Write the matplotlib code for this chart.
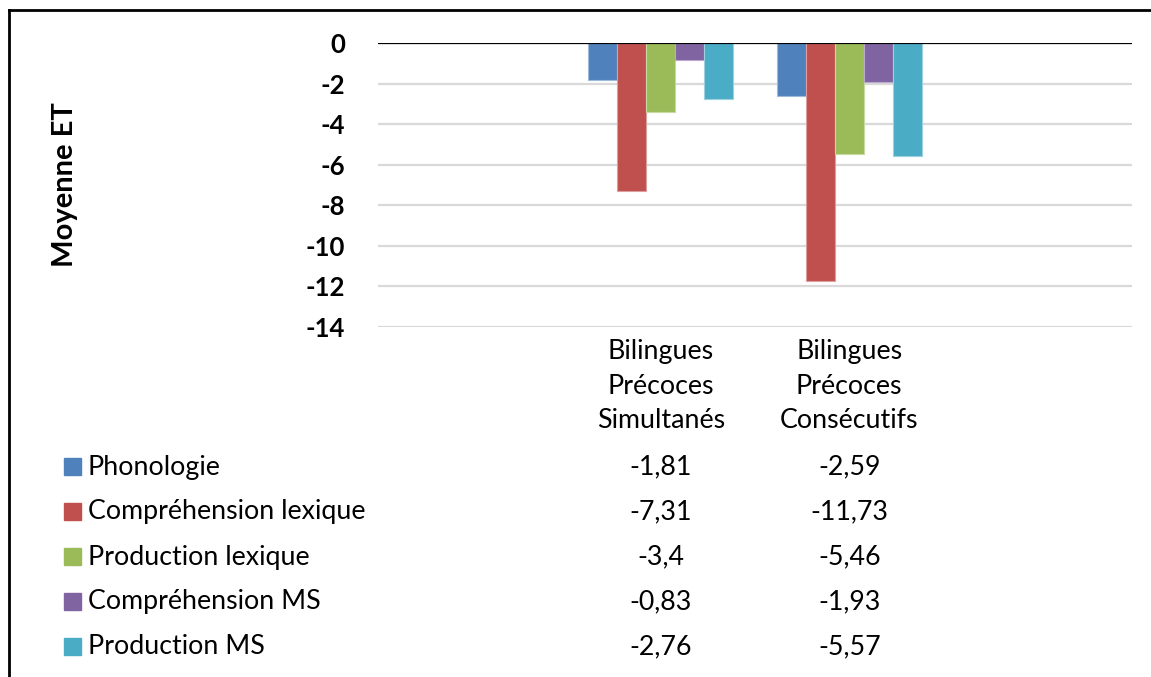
import matplotlib.pyplot as plt
import numpy as np
from matplotlib.lines import Line2D
from matplotlib.patches import Rectangle
from matplotlib.colors import to_rgb

plt.rcParams["font.family"] = ["Lato", "DejaVu Sans"]
plt.rcParams["axes.unicode_minus"] = False

groups = ["Bilingues\nPrécoces\nSimultanés", "Bilingues\nPrécoces\nConsécutifs"]
series = ["Phonologie", "Compréhension lexique", "Production lexique",
          "Compréhension MS", "Production MS"]
simultanes = [-1.81, -7.31, -3.4, -0.83, -2.76]
consecutifs = [-2.59, -11.73, -5.46, -1.93, -5.57]
colors = ["#4F81BD", "#C0504D", "#9BBB59", "#8064A2", "#4BACC6"]
yticks = np.arange(-14, 1, 2)

W, H = 1151, 677
fig = plt.figure(figsize=(W / 100, H / 100), dpi=100)
ax = fig.add_axes([378 / W, 1 - 327 / H, 754 / W, 284 / H])

# the original chart has 4 category slots, only the middle two hold data
x = np.array([1, 2])
width = 0.154
values = np.array([simultanes, consecutifs]).T
for i, name in enumerate(series):
    edge = 0.55 * np.array(to_rgb(colors[i])) + 0.45
    ax.bar(x + (i - 2) * width, values[i], width, color=colors[i],
           edgecolor=edge, linewidth=0.8, zorder=3, label=name)

ax.set_xlim(-0.5, 3.5)
ax.set_ylim(-14, 0)
ax.set_yticks(yticks, labels=[f"{t:g}" for t in yticks],
              fontweight="bold", fontsize=18.5)
ax.set_xticks([])
ax.yaxis.grid(True, color="#D9D9D9", linewidth=1.6, zorder=0)
ax.axhline(0, color="black", linewidth=1.6, zorder=4)
for s in ax.spines.values():
    s.set_visible(False)
ax.tick_params(axis="y", length=0, pad=23.5)
ax.set_ylabel("Moyenne ET", fontsize=21, fontweight="bold")
ax.yaxis.set_label_coords(-0.398, 0.5)

# data table below the plot
tr = ax.get_xaxis_transform()
for xi, g in zip(x, groups):
    ax.text(xi, (327 - 386) / 284, g, transform=tr, ha="center", va="center",
            fontsize=19.3, linespacing=1.45)

for i, name in enumerate(series):
    ypix = 467 + 45 * i
    fig.add_artist(Rectangle((64 / W, 1 - (ypix + 8) / H), 17 / W, 17 / H,
                             transform=fig.transFigure, color=colors[i]))
    fig.text(88 / W, 1 - ypix / H, name, ha="left", va="center", fontsize=19.3)
    for j, xi in enumerate(x):
        v = values[i][j]
        ax.text(xi, (327 - ypix) / 284, f"{v:g}".replace(".", ","),
                transform=tr, ha="center", va="center", fontsize=19.3)

# chart frame (only left and top edges are visible in the crop)
fig.add_artist(Line2D([9 / W, 9 / W], [0, 1 - 10 / H], color="black",
                      linewidth=2, transform=fig.transFigure))
fig.add_artist(Line2D([9 / W, 1], [1 - 10 / H, 1 - 10 / H], color="black",
                      linewidth=2, transform=fig.transFigure))

fig.savefig("out.png", dpi=100)
